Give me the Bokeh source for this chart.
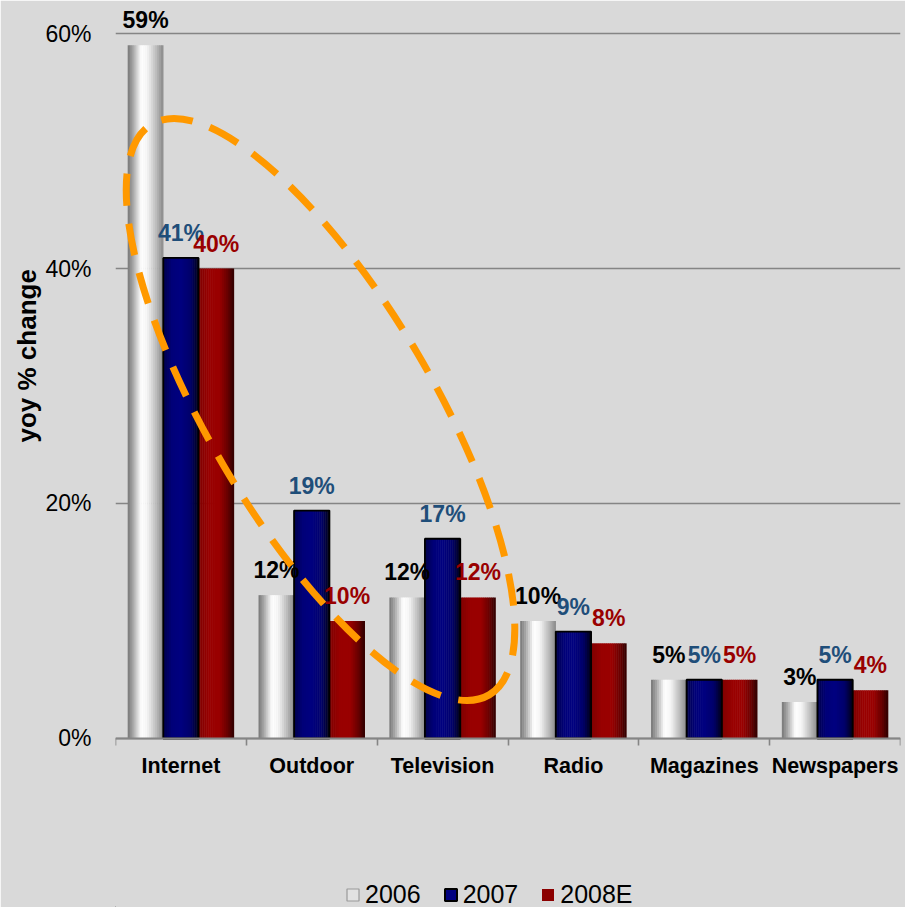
import numpy as np
from bokeh.plotting import figure
from bokeh.models import (Range1d, FixedTicker, Legend, LegendItem, ColumnDataSource,
                          PrintfTickFormatter, Title)
from bokeh.core.properties import value
from bokeh.embed import file_html
from bokeh.resources import INLINE

# ---------------- data ----------------
categories = ["Internet", "Outdoor", "Television", "Radio", "Magazines", "Newspapers"]
series = ["2006", "2007", "2008E"]
v2006 = [59.0, 12.2, 12.0, 10.0, 5.0, 3.1]
v2007 = [40.9, 19.4, 17.0, 9.1, 5.0, 5.0]
v2008 = [40.0, 10.0, 12.0, 8.1, 5.0, 4.1]
y_ticks = [0, 20, 40, 60]

# ---------------- style ----------------
BG = "#d9d9d9"
FONT = "Liberation Sans"
GRID = "#858585"
label_colors = ["#000000", "#1F4E79", "#990000"]
profiles = [
    [(0.0, "#767676"), (0.15, "#a6a6a6"), (0.38, "#ffffff"), (0.55, "#f6f6f6"), (0.8, "#bdbdbd"), (1.0, "#8a8a8a")],
    [(0.0, "#00004a"), (0.25, "#000078"), (0.5, "#000080"), (0.78, "#00006a"), (1.0, "#000018")],
    [(0.0, "#7e0000"), (0.3, "#990000"), (0.6, "#990000"), (0.85, "#620000"), (1.0, "#2e0000")],
]
offsets = [-0.27, 0.0, 0.27]
bar_w = 0.27
N = 18


def hex2rgb(h):
    return np.array([int(h[i:i + 2], 16) for i in (1, 3, 5)], dtype=float)


def profile_color(prof, t):
    for (t0, c0), (t1, c1) in zip(prof[:-1], prof[1:]):
        if t0 <= t <= t1:
            f = 0 if t1 == t0 else (t - t0) / (t1 - t0)
            rgb = hex2rgb(c0) * (1 - f) + hex2rgb(c1) * f
            return "#%02x%02x%02x" % tuple(int(round(v)) for v in rgb)
    return prof[-1][1]


centers = np.arange(len(categories)) + 0.5
bounds = list(range(len(categories) + 1))

# frame spans from y=5 to the bottom of the page; 0% sits at y=738 (11.75 px per %)
p = figure(width=905, height=907, x_range=Range1d(0, 6), y_range=Range1d(-14.383, 62.383),
           output_backend="svg", toolbar_location=None,
           min_border_left=115, min_border_right=5, min_border_top=5, min_border_bottom=0,
           background_fill_color=BG, border_fill_color=BG,
           outline_line_color=BG, outline_line_width=2)

# y axis
p.yaxis.ticker = FixedTicker(ticks=y_ticks)
p.yaxis.formatter = PrintfTickFormatter(format="%d%%")
p.yaxis.axis_line_color = None
p.yaxis.major_tick_line_color = None
p.yaxis.minor_tick_line_color = None
p.yaxis.major_tick_out = 0
p.yaxis.major_label_standoff = 24
p.yaxis.major_label_text_font = FONT
p.yaxis.major_label_text_font_size = "23px"
p.yaxis.major_label_text_color = "#000000"

p.add_layout(Title(text="yoy % change", align="left", offset=465, standoff=2,
                   text_font=FONT, text_font_style="bold", text_font_size="26px",
                   text_color="#000000"), "left")

p.ygrid.ticker = FixedTicker(ticks=y_ticks)
p.ygrid.grid_line_color = GRID
p.ygrid.grid_line_width = 1.6
p.xgrid.grid_line_color = None

# x axis, pinned at 0%
p.xaxis.fixed_location = 0
p.xaxis.ticker = FixedTicker(ticks=list(centers), minor_ticks=bounds)
p.xaxis.major_label_overrides = {float(c): name for c, name in zip(centers, categories)}
p.xaxis.major_tick_line_color = None
p.xaxis.major_tick_out = 0
p.xaxis.major_tick_in = 0
p.xaxis.minor_tick_in = 0
p.xaxis.minor_tick_out = 7
p.xaxis.minor_tick_line_color = GRID
p.xaxis.minor_tick_line_width = 1.6
p.xaxis.axis_line_color = GRID
p.xaxis.axis_line_width = 2
p.xaxis.major_label_standoff = 9
p.xaxis.major_label_text_font = FONT
p.xaxis.major_label_text_font_style = "bold"
p.xaxis.major_label_text_font_size = "21.5px"
p.xaxis.major_label_text_color = "#000000"

# bars as gradient strips
all_vals = [v2006, v2007, v2008]
sw = bar_w / N
for si, vals in enumerate(all_vals):
    xs, tops, cols = [], [], []
    for ci, v in enumerate(vals):
        for k in range(N):
            t = (k + 0.5) / N
            xs.append(centers[ci] + offsets[si] - bar_w / 2 + (k + 0.5) * sw)
            tops.append(v)
            cols.append(profile_color(profiles[si], t))
    src = ColumnDataSource(dict(x=xs, top=tops, color=cols))
    p.vbar(x="x", top="top", bottom=0, width=sw * 1.25, fill_color="color", line_color=None, source=src)

# outline on 2007 bars
p.vbar(x=centers + offsets[1], top=v2007, bottom=0, width=bar_w, fill_color=None,
       line_color="#000000", line_width=1.8)

# value labels
for si, vals in enumerate(all_vals):
    p.text(x=centers + offsets[si], y=vals, text=[f"{round(v)}%" for v in vals],
           text_align="center", text_baseline="alphabetic", y_offset=-25,
           text_font=value(FONT), text_font_style="bold", text_font_size="23px",
           text_color=label_colors[si])

# dashed orange ellipse
p.ellipse(x=[1.567], y=[28.0], width=663, height=224, angle=-1.037,
          width_units="screen", height_units="screen", fill_color=None,
          line_color="#FF9900", line_width=7, line_dash="32 18")

# legend proxies (far outside the visible ranges)
r06 = p.vbar(x=[-50], top=[-200], bottom=-201, width=0.1, fill_color="#e2e2e2", line_color="#9a9a9a", line_width=1.2)
r07 = p.vbar(x=[-50], top=[-200], bottom=-201, width=0.1, fill_color="#000080", line_color="#000000", line_width=2)
r08 = p.vbar(x=[-50], top=[-200], bottom=-201, width=0.1, fill_color="#8b0000", line_color=None)
legend = Legend(items=[LegendItem(label=series[0], renderers=[r06]),
                       LegendItem(label=series[1], renderers=[r07]),
                       LegendItem(label=series[2], renderers=[r08])],
                orientation="horizontal", location=(230, -2), padding=0, margin=0,
                spacing=22, glyph_width=15, glyph_height=15, label_standoff=5,
                label_text_font=FONT, label_text_font_size="25px", label_text_color="#000000",
                background_fill_alpha=0, border_line_color=None)
p.add_layout(legend)

open("out.html", "w").write(file_html(p, INLINE))
